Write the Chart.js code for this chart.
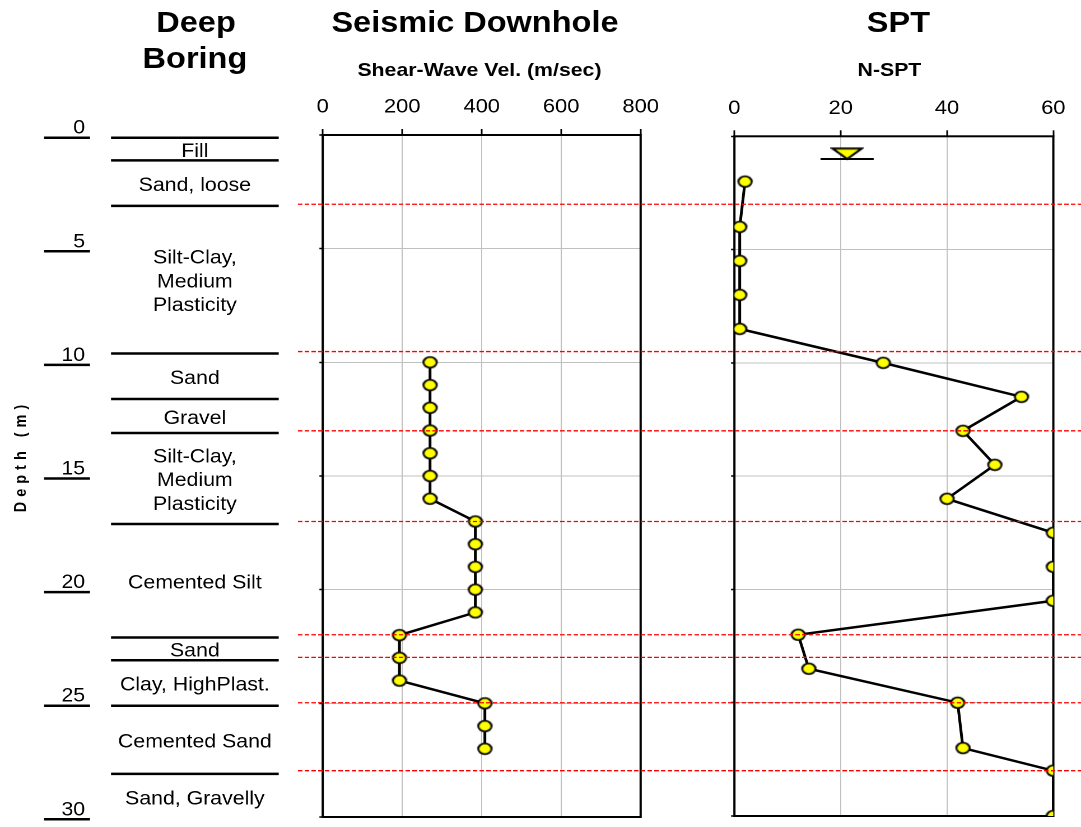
<!DOCTYPE html>
<html>
<head>
<meta charset="utf-8">
<title>Deep Boring / Seismic Downhole / SPT</title>
<script src="https://cdn.jsdelivr.net/npm/chart.js@4.4.1/dist/chart.umd.min.js"></script>
<style>
  html, body { margin: 0; padding: 0; background: #fff; overflow: hidden; }
  /* the original figure is a little wider than its fonts: stretch the whole stage */
  #stage {
    position: absolute; left: 0; top: 0; width: 965px; height: 827px;
    transform: scaleX(1.120207); transform-origin: 0 0;
    font-family: "Liberation Sans", Arial, sans-serif; color: #000;
  }
  .layer { position: absolute; left: 0; top: 0; width: 965px; height: 827px; }
  .title { position: absolute; font-weight: bold; white-space: nowrap; transform: translateX(-50%); line-height: 1; }
  .big { font-size: 29px; }
  .sub { font-size: 19px; }
  #depthLabel {
    position: absolute; left: 18px; top: 456px; font-size: 14.5px; font-weight: bold;
    letter-spacing: 5px; white-space: nowrap; transform: translate(-50%, -50%) rotate(-90deg);
  }
</style>
</head>
<body>
<div id="stage">
  <div class="title big" style="left:175px; top:8px;">Deep</div>
  <div class="title big" style="left:174px; top:44px;">Boring</div>
  <div class="title big" style="left:424px; top:8px;">Seismic Downhole</div>
  <div class="title sub" style="left:428px; top:60px;">Shear-Wave Vel. (m/sec)</div>
  <div class="title big" style="left:802px; top:8px;">SPT</div>
  <div class="title sub" style="left:794px; top:60px;">N-SPT</div>
  <div id="depthLabel">Depth (m)</div>

  <div class="layer"><canvas id="boringChart"></canvas></div>
  <div class="layer"><canvas id="vsChart"></canvas></div>
  <div class="layer"><canvas id="sptChart"></canvas></div>
</div>

<script>
// -------------------------------
// Data
// -------------------------------
const depthTicks = [0, 5, 10, 15, 20, 25, 30];

// boring log
const layerTop = [0, 1, 3, 9.5, 11.5, 13, 17, 22, 23, 25, 28];
const layerBottom = [1, 3, 9.5, 11.5, 13, 17, 22, 23, 25, 28, 30];
const layerNames = [
  ["Fill"],
  ["Sand, loose"],
  ["Silt-Clay,", "Medium", "Plasticity"],
  ["Sand"],
  ["Gravel"],
  ["Silt-Clay,", "Medium", "Plasticity"],
  ["Cemented Silt"],
  ["Sand"],
  ["Clay, HighPlast."],
  ["Cemented Sand"],
  ["Sand, Gravelly"]
];

// layer boundaries carried across the plots (red dashes)
const boundaryDepths = [3, 9.5, 13, 17, 22, 23, 25, 28];

// seismic downhole
const vsDepth = [10, 11, 12, 13, 14, 15, 16, 17, 18, 19, 20, 21, 22, 23, 24, 25, 26, 27];
const vsValues = [270, 270, 270, 270, 270, 270, 270, 384, 384, 384, 384, 384, 193, 193, 193, 408, 408, 408];
const vsTicks = [0, 200, 400, 600, 800];

// SPT
const sptDepth = [2, 4, 5.5, 7, 8.5, 10, 11.5, 13, 14.5, 16, 17.5, 19, 20.5, 22, 23.5, 25, 27, 28, 30];
const sptN = [2, 1, 1, 1, 1, 28, 54, 43, 49, 40, 60, 60, 60, 12, 14, 42, 43, 60, 60];
const sptTicks = [0, 20, 40, 60];

// water table
const waterDepth = 1.0;
const waterN = 21.2;
const waterHalfWidth = 5;

// -------------------------------
// Shared styling
// -------------------------------
const FONT = "'Liberation Sans', Arial, sans-serif";
const GRID = "#c0c0c0";

// yellow ellipse marker
function makeDot() {
  const c = document.createElement("canvas");
  c.width = 16;
  c.height = 14;
  const g = c.getContext("2d");
  g.beginPath();
  g.ellipse(8, 7, 5.9, 5.3, 0, 0, Math.PI * 2);
  g.fillStyle = "#ffff00";
  g.fill();
  g.lineWidth = 1.8;
  g.strokeStyle = "#000";
  g.stroke();
  return c;
}

// water table triangle, apex at the centre of the image
function makeTriangle() {
  const c = document.createElement("canvas");
  c.width = 30;
  c.height = 24;
  const g = c.getContext("2d");
  g.beginPath();
  g.moveTo(2, 1.5);
  g.lineTo(28, 1.5);
  g.lineTo(15, 12);
  g.closePath();
  g.fillStyle = "#ffff00";
  g.fill();
  g.lineWidth = 2;
  g.strokeStyle = "#000";
  g.stroke();
  return c;
}

const dot = makeDot();

// frame round the plot area (under the points)
const framePlugin = {
  id: "frame",
  beforeDatasetsDraw(chart) {
    const a = chart.chartArea;
    const ctx = chart.ctx;
    ctx.save();
    ctx.strokeStyle = "#000";
    ctx.lineWidth = 2;
    ctx.strokeRect(a.left, a.top, a.right - a.left, a.bottom - a.top);
    ctx.restore();
  }
};

// red dashed boundaries across both plots
const boundaryPlugin = {
  id: "boundaries",
  afterDraw(chart) {
    const ys = chart.scales.y;
    const ctx = chart.ctx;
    ctx.save();
    ctx.strokeStyle = "#ff0000";
    ctx.lineWidth = 1.3;
    ctx.setLineDash([4, 2]);
    boundaryDepths.forEach((d) => {
      const y = ys.getPixelForValue(d);
      ctx.beginPath();
      ctx.moveTo(266, y);
      ctx.lineTo(965, y);
      ctx.stroke();
    });
    ctx.restore();
  }
};

// boring log: depth marks, layer lines and names
const boringPlugin = {
  id: "boring",
  afterDraw(chart) {
    const ys = chart.scales.y;
    const a = chart.chartArea;
    const ctx = chart.ctx;
    ctx.save();
    ctx.strokeStyle = "#000";
    ctx.fillStyle = "#000";
    ctx.lineWidth = 2.5;

    ctx.font = "19px " + FONT;
    ctx.textAlign = "right";
    ctx.textBaseline = "alphabetic";
    depthTicks.forEach((d) => {
      const y = ys.getPixelForValue(d);
      ctx.beginPath();
      ctx.moveTo(39.3, y);
      ctx.lineTo(80.3, y);
      ctx.stroke();
      ctx.fillText(String(d), 76, y - 4);
    });

    layerTop.forEach((d) => {
      const y = ys.getPixelForValue(d);
      ctx.beginPath();
      ctx.moveTo(a.left, y);
      ctx.lineTo(a.right, y);
      ctx.stroke();
    });

    ctx.textAlign = "center";
    ctx.textBaseline = "middle";
    const cx = (a.left + a.right) / 2;
    const lineH = 23.7;
    layerNames.forEach((lines, i) => {
      const mid = ys.getPixelForValue((layerTop[i] + layerBottom[i]) / 2) + 2.5;
      lines.forEach((t, k) => {
        ctx.fillText(t, cx, mid + (k - (lines.length - 1) / 2) * lineH);
      });
    });
    ctx.restore();
  }
};

// -------------------------------
// Chart builders
// -------------------------------
function depthAxis() {
  return {
    type: "linear",
    position: "left",
    reverse: true,
    min: depthTicks[0],
    max: depthTicks[depthTicks.length - 1],
    afterBuildTicks: (s) => { s.ticks = depthTicks.map((v) => ({ value: v })); },
    afterFit: (s) => { s.width = 10; },
    ticks: { display: false },
    grid: { color: GRID, lineWidth: 1, tickLength: 3, tickColor: "#000", tickWidth: 1.5 },
    border: { display: false }
  };
}

function valueAxis(ticks) {
  return {
    type: "linear",
    position: "top",
    min: ticks[0],
    max: ticks[ticks.length - 1],
    afterBuildTicks: (s) => { s.ticks = ticks.map((v) => ({ value: v })); },
    afterFit: (s) => { s.height = 50; },
    ticks: {
      color: "#000",
      font: { family: FONT, size: 19.5 },
      padding: 10,
      maxRotation: 0,
      autoSkip: false
    },
    grid: { color: GRID, lineWidth: 1, tickLength: 6, tickColor: "#000", tickWidth: 1.5 },
    border: { display: false }
  };
}

function baseOptions(padding) {
  return {
    responsive: true,
    maintainAspectRatio: false,
    devicePixelRatio: 2,
    animation: false,
    events: [],
    layout: { padding: padding },
    plugins: { legend: { display: false }, tooltip: { enabled: false }, title: { display: false } }
  };
}

function profileDataset(xs, depths) {
  return {
    data: xs.map((x, i) => ({ x: x, y: depths[i] })),
    showLine: true,
    borderColor: "#000",
    borderWidth: 2.5,
    pointStyle: dot,
    pointRadius: 7,
    tension: 0
  };
}

// boring log (scales only, no marks)
new Chart(document.getElementById("boringChart"), {
  type: "scatter",
  data: { datasets: [] },
  options: Object.assign(baseOptions({ left: 99.1, right: 716.2, top: 137.7, bottom: 7.7 }), {
    scales: {
      x: { type: "linear", min: 0, max: 1, display: false },
      y: { type: "linear", reverse: true, min: 0, max: 30, display: false }
    }
  }),
  plugins: [boringPlugin]
});

// seismic downhole
new Chart(document.getElementById("vsChart"), {
  type: "scatter",
  data: { datasets: [profileDataset(vsValues, vsDepth)] },
  options: Object.assign(baseOptions({ left: 278.1, right: 393.1, top: 85, bottom: 10 }), {
    scales: { x: valueAxis(vsTicks), y: depthAxis() }
  }),
  plugins: [framePlugin]
});

// SPT
const waterLine = {
  data: [
    { x: waterN - waterHalfWidth, y: waterDepth },
    { x: waterN + waterHalfWidth, y: waterDepth }
  ],
  showLine: true,
  borderColor: "#000",
  borderWidth: 2,
  pointRadius: 0
};
const waterMark = {
  data: [{ x: waterN, y: waterDepth }],
  pointStyle: makeTriangle(),
  pointRadius: 10
};

new Chart(document.getElementById("sptChart"), {
  type: "scatter",
  data: { datasets: [profileDataset(sptN, sptDepth), waterMark, waterLine] },
  options: Object.assign(baseOptions({ left: 645.6, right: 24.7, top: 86.3, bottom: 8.2 }), {
    scales: { x: valueAxis(sptTicks), y: depthAxis() }
  }),
  plugins: [framePlugin, boundaryPlugin]
});
</script>
</body>
</html>
